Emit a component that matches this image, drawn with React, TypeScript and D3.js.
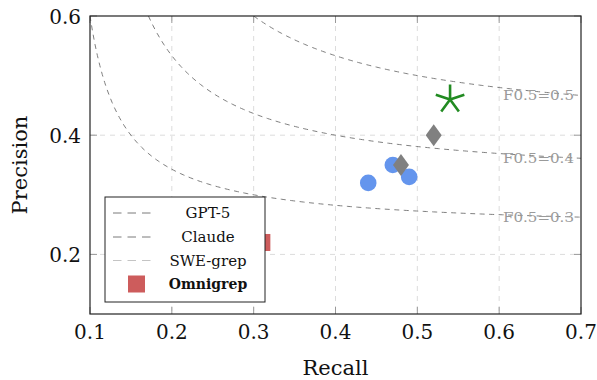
import React from "react";
import * as d3 from "d3";

// ---- data ----
const gpt5Recall = [0.44, 0.47, 0.49];
const gpt5Precision = [0.32, 0.35, 0.33];
const claudeRecall = [0.48, 0.52];
const claudePrecision = [0.35, 0.40];
const sweRecall = [0.54];
const swePrecision = [0.46];
const omniRecall = [0.31];
const omniPrecision = [0.22];

const fLevels = [0.3, 0.4, 0.5];
const fLabels = ["F0.5=0.3", "F0.5=0.4", "F0.5=0.5"];

const xTicks = [0.1, 0.2, 0.3, 0.4, 0.5, 0.6, 0.7];
const yTicks = [0.2, 0.4, 0.6];
const xGrid = [0.2, 0.3, 0.4, 0.5, 0.6];
const yGrid = [0.2, 0.4];

const legendNames = ["GPT-5", "Claude", "SWE-grep", "Omnigrep"];

const W = 597;
const H = 380;
const left = 90, right = 581, top = 16, bottom = 314;
const FONT = "'DejaVu Serif', 'Liberation Serif', serif";

const x = d3.scaleLinear().domain([0.1, 0.7]).range([left, right]);
const y = d3.scaleLinear().domain([0.1, 0.6]).range([bottom, top]);

// iso-F0.5 curve: P = F R / (1.25 R - 0.25 F)
const precisionFor = (f: number, r: number) => (f * r) / (1.25 * r - 0.25 * f);
const recallFor = (f: number, p: number) => (0.25 * f * p) / (1.25 * p - f);

function curvePath(f: number) {
  const r0 = Math.max(0.1, recallFor(f, 0.6));
  const pts: [number, number][] = d3.range(0, 201).map((i) => {
    const r = r0 + ((0.7 - r0) * i) / 200;
    return [r, precisionFor(f, r)];
  });
  return d3
    .line<[number, number]>()
    .x((d) => x(d[0]))
    .y((d) => y(d[1]))(pts) as string;
}

function starPath(r: number) {
  let d = "";
  for (let k = 0; k < 5; k++) {
    const a = -Math.PI / 2 + (k * 2 * Math.PI) / 5;
    d += `M0,0L${(r * Math.cos(a)).toFixed(2)},${(r * Math.sin(a)).toFixed(2)}`;
  }
  return d;
}

export default function App() {
  const legX = 105, legY = 197, legW = 160, legH = 105;
  const rowY = [213, 237, 260.5, 284];
  const legendLineColors = ["#7a7a7a", "#7a7a7a", "#c4c4c4"];
  return (
    <svg
      width={W}
      height={H}
      style={{ position: "absolute", left: 0, top: 0, background: "#fff" }}
      fontFamily={FONT}
    >
      <defs>
        <clipPath id="plotclip">
          <rect x={left} y={top} width={right - left} height={bottom - top} />
        </clipPath>
      </defs>
      <rect x={0} y={0} width={W} height={H} fill="#fff" />

      {/* grid */}
      {xGrid.map((v) => (
        <line key={"gx" + v} x1={x(v)} x2={x(v)} y1={top} y2={bottom} stroke="#dcdcdc" strokeWidth={1} strokeDasharray="5 5" />
      ))}
      {yGrid.map((v) => (
        <line key={"gy" + v} x1={left} x2={right} y1={y(v)} y2={y(v)} stroke="#dcdcdc" strokeWidth={1} strokeDasharray="5 5" />
      ))}

      {/* ticks */}
      {xTicks.map((v) => (
        <g key={"tx" + v}>
          <line x1={x(v)} x2={x(v)} y1={bottom} y2={bottom - 7} stroke="#999" strokeWidth={1} />
          <line x1={x(v)} x2={x(v)} y1={top} y2={top + 7} stroke="#999" strokeWidth={1} />
        </g>
      ))}
      {yTicks.map((v) => (
        <g key={"ty" + v}>
          <line x1={left} x2={left + 7} y1={y(v)} y2={y(v)} stroke="#999" strokeWidth={1} />
          <line x1={right} x2={right - 7} y1={y(v)} y2={y(v)} stroke="#999" strokeWidth={1} />
        </g>
      ))}

      {/* iso-F curves */}
      <g clipPath="url(#plotclip)">
        {fLevels.map((f) => (
          <path key={"c" + f} d={curvePath(f)} fill="none" stroke="#707070" strokeWidth={0.9} strokeDasharray="5 4.5" />
        ))}
      </g>
      {fLevels.map((f, i) => (
        <text
          key={"fl" + f}
          x={x(0.7) - 7}
          y={y(precisionFor(f, 0.7)) + 4.5}
          textAnchor="end"
          fontSize={13}
          fill="#9a9a9a"
          textLength={71}
          lengthAdjust="spacingAndGlyphs"
        >
          {fLabels[i]}
        </text>
      ))}

      {/* points */}
      {gpt5Recall.map((r, i) => (
        <circle key={"g" + i} cx={x(r)} cy={y(gpt5Precision[i])} r={8.3} fill="#6495ED" />
      ))}
      {claudeRecall.map((r, i) => (
        <path
          key={"c" + i}
          transform={`translate(${x(r)},${y(claudePrecision[i])})`}
          d="M0,-11L8,0L0,11L-8,0Z"
          fill="#808080"
        />
      ))}
      {sweRecall.map((r, i) => (
        <path
          key={"s" + i}
          transform={`translate(${x(r)},${y(swePrecision[i])})`}
          d={starPath(15)}
          stroke="#228B22"
          strokeWidth={2.6}
          fill="none"
        />
      ))}
      {omniRecall.map((r, i) => (
        <rect key={"o" + i} x={x(r) - 8.5} y={y(omniPrecision[i]) - 8.5} width={17} height={17} fill="#CD5C5C" />
      ))}

      {/* frame */}
      <rect x={left} y={top} width={right - left} height={bottom - top} fill="none" stroke="#222" strokeWidth={1.2} />

      {/* tick labels */}
      {xTicks.map((v) => (
        <text key={"xl" + v} x={x(v)} y={339} textAnchor="middle" fontSize={20} fill="#111">
          {v.toFixed(1)}
        </text>
      ))}
      {yTicks.map((v) => (
        <text key={"yl" + v} x={left - 9} y={y(v) + 7.5} textAnchor="end" fontSize={20} fill="#111">
          {v.toFixed(1)}
        </text>
      ))}

      {/* axis labels */}
      <text x={(left + right) / 2} y={375} textAnchor="middle" fontSize={21} fill="#111">
        Recall
      </text>
      <text transform={`translate(27,${(top + bottom) / 2}) rotate(-90)`} textAnchor="middle" fontSize={21} fill="#111">
        Precision
      </text>

      {/* legend */}
      <rect x={legX} y={legY} width={legW} height={legH} fill="#fff" stroke="#222" strokeWidth={1} />
      {legendNames.map((name, i) => (
        <g key={"lg" + i}>
          {i < 3 ? (
            <line x1={113} x2={153.5} y1={rowY[i]} y2={rowY[i]} stroke={legendLineColors[i]} strokeWidth={1} strokeDasharray="8.5 6" />
          ) : (
            <rect x={128} y={rowY[i] - 8.5} width={17} height={17} fill="#CD5C5C" />
          )}
          <text
            x={208}
            y={rowY[i] + 5}
            textAnchor="middle"
            fontSize={i === 3 ? 14 : 15}
            fontWeight={i === 3 ? "bold" : "normal"}
            fill="#111"
          >
            {name}
          </text>
        </g>
      ))}
    </svg>
  );
}
